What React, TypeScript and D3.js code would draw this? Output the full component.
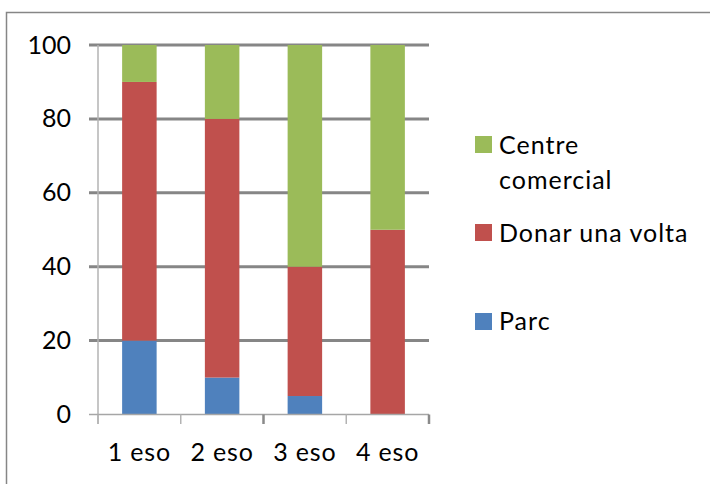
import React from "react";
import * as d3 from "d3";

const categories = ["1 eso", "2 eso", "3 eso", "4 eso"];
const parc = [20, 10, 5, 0];
const donarUnaVolta = [70, 70, 35, 50];
const centreComercial = [10, 20, 60, 50];
const yTicks = [0, 20, 40, 60, 80, 100];

const seriesKeys = ["parc", "donar", "centre"];
const seriesColors: Record<string, string> = {
  parc: "#4F81BD",
  donar: "#C0504D",
  centre: "#9BBB59",
};

const W = 710;
const H = 484;
const FONT = "Lato, 'Liberation Sans', sans-serif";

export default function App() {
  const rows = categories.map((c, i) => ({
    cat: c,
    parc: parc[i],
    donar: donarUnaVolta[i],
    centre: centreComercial[i],
  }));
  const stack = d3.stack<any>().keys(seriesKeys);
  const layers = stack(rows);

  const x = d3.scaleBand<string>().domain(categories).range([98, 429]).paddingInner(0).paddingOuter(0);
  const barW = 34.5;
  const y = d3.scaleLinear().domain([0, 100]).range([414.5, 45]);

  const legendItems = [
    { key: "centre", lines: ["Centre", "comercial"], sqY: 136, baseY: 154 },
    { key: "donar", lines: ["Donar una volta"], sqY: 224, baseY: 242 },
    { key: "parc", lines: ["Parc"], sqY: 313, baseY: 330 },
  ];

  return (
    <svg
      width={W}
      height={H}
      style={{ position: "absolute", left: 0, top: 0, background: "#fff" }}
    >
      <rect x={0} y={0} width={W} height={H} fill="#fff" />
      {/* outer chart border */}
      <rect x={6.5} y={12.5} width={W + 20} height={H + 20} fill="none" stroke="#868686" strokeWidth={1.5} />

      {/* gridlines */}
      {yTicks.filter((t) => t > 0).map((t) => (
        <line key={t} x1={89} x2={429} y1={y(t)} y2={y(t)} stroke="#868686" strokeWidth={3} />
      ))}

      {/* bars */}
      {layers.map((layer) =>
        layer.map((d, i) => {
          const cat = categories[i];
          const cx = (x(cat) as number) + x.bandwidth() / 2;
          const h = y(d[0]) - y(d[1]);
          if (h <= 0) return null;
          return (
            <rect
              key={layer.key + i}
              x={cx - barW / 2}
              y={y(d[1])}
              width={barW}
              height={h}
              fill={seriesColors[layer.key]}
            />
          );
        })
      )}

      {/* y axis */}
      <line x1={98} x2={98} y1={y(100)} y2={424} stroke="#B3B3B3" strokeWidth={1.5} />
      {/* x axis */}
      <line x1={89} x2={429} y1={y(0)} y2={y(0)} stroke="#A6A6A6" strokeWidth={1.5} />
      {[...categories.map((c) => x(c) as number), 429].map((tx, i) => (
        <line
          key={"xt" + i}
          x1={tx}
          x2={tx}
          y1={y(0)}
          y2={424}
          stroke={i === 2 || i === 4 ? "#8A8A8A" : "#B3B3B3"}
          strokeWidth={i === 2 || i === 4 ? 2.5 : 1.5}
        />
      ))}

      {/* y tick labels */}
      {yTicks.map((t) => (
        <text
          key={"yl" + t}
          x={71}
          y={y(t) + 8.5}
          textAnchor="end"
          fontFamily={FONT}
          fontSize={25}
          fill="#000"
        >
          {t}
        </text>
      ))}

      {/* x tick labels */}
      {categories.map((c) => (
        <text
          key={"xl" + c}
          x={(x(c) as number) + x.bandwidth() / 2}
          y={461}
          textAnchor="middle"
          fontFamily={FONT}
          fontSize={25}
          letterSpacing={0.8}
          fill="#000"
        >
          {c}
        </text>
      ))}

      {/* legend */}
      {legendItems.map((it) => (
        <g key={"lg" + it.key}>
          <rect x={475} y={it.sqY} width={17} height={17} fill={seriesColors[it.key]} />
          {it.lines.map((ln, j) => (
            <text
              key={ln}
              x={499}
              y={it.baseY + j * 35}
              fontFamily={FONT}
              fontSize={25}
              letterSpacing={1}
              fill="#000"
            >
              {ln}
            </text>
          ))}
        </g>
      ))}
    </svg>
  );
}
